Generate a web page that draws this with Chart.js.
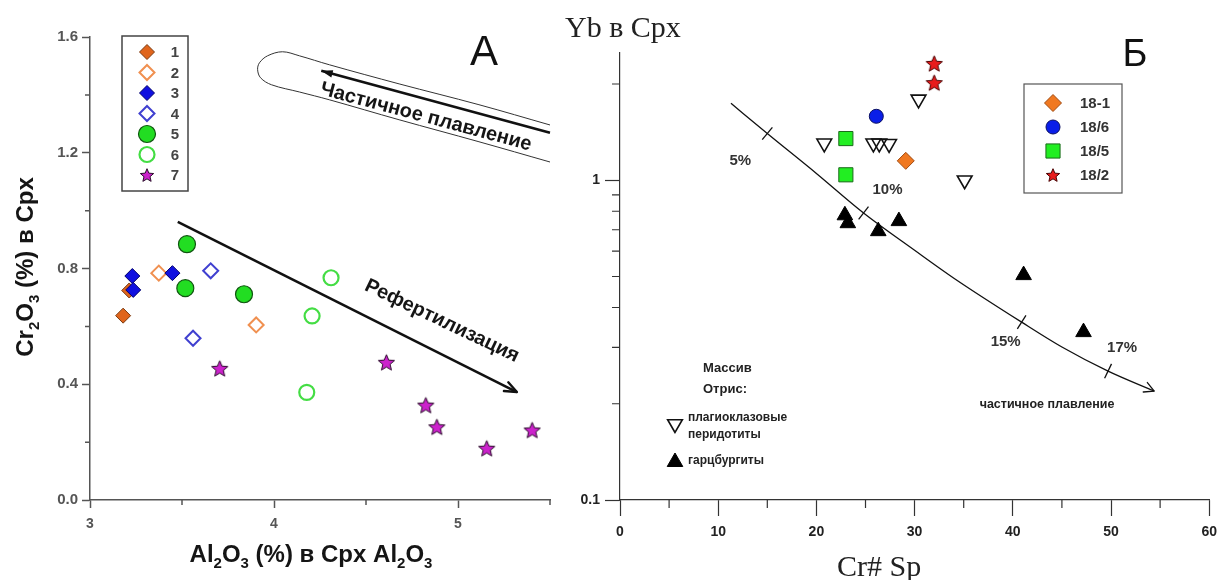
<!DOCTYPE html>
<html>
<head>
<meta charset="utf-8">
<title>Cr2O3 – Al2O3 и Yb – Cr# Sp</title>
<script src="https://cdn.jsdelivr.net/npm/chart.js@4.4.1/dist/chart.umd.min.js"></script>
<style>
  html, body { margin: 0; padding: 0; background: #fff; }
  #wrap { position: relative; width: 1225px; height: 580px; overflow: hidden; }
  #wrap canvas { position: absolute; left: 0; top: 0; }
</style>
</head>
<body>
<div id="wrap">
  <canvas id="chartA" width="1225" height="580"></canvas>
  <canvas id="chartB" width="1225" height="580"></canvas>
</div>
<script>
// ---------- Панель А: Al2O3 – Cr2O3 в клинопироксене ----------
const groupLabelsA = ['1', '2', '3', '4', '5', '6', '7'];
const groupA1 = [[3.18, 0.637], [3.213, 0.724]];
const groupA2 = [[3.374, 0.784], [3.903, 0.605]];
const groupA3 = [[3.23, 0.774], [3.235, 0.726], [3.448, 0.784]];
const groupA4 = [[3.656, 0.792], [3.56, 0.559]];
const groupA5 = [[3.527, 0.884], [3.518, 0.732], [3.837, 0.711]];
const groupA6 = [[4.31, 0.768], [4.207, 0.636], [4.178, 0.372]];
const groupA7 = [[3.705, 0.455], [4.611, 0.476], [4.825, 0.328], [4.885, 0.253], [5.156, 0.179], [5.403, 0.242]];

// тренды
const refertTrend = [[3.477, 0.961], [5.32, 0.373]];
const meltTrendA = [[5.5, 1.269], [4.257, 1.483]];
const meltFieldA = [[5.5, 1.296], [5.114, 1.366], [4.68, 1.438], [4.301, 1.504], [4.138, 1.535], [4.046, 1.549],
  [3.965, 1.535], [3.921, 1.511], [3.911, 1.487], [3.927, 1.459], [3.986, 1.435], [4.138, 1.41],
  [4.301, 1.383], [4.68, 1.314], [5.114, 1.238], [5.5, 1.168]];

const xTicksA = [3, 4, 5];
const xMinorA = [3.5, 4.5, 5.5];
const yTicksA = [0, 0.4, 0.8, 1.2, 1.6];
const yMinorA = [0.2, 0.6, 1.0, 1.4];

// ---------- Панель Б: Cr# Sp – Yb в Cpx ----------
const groupLabelsB = ['18-1', '18/6', '18/5', '18/2'];
const groupB1 = [[29.1, 1.15]];
const groupB2 = [[26.1, 1.585]];
const groupB3 = [[23.0, 1.35], [23.0, 1.04]];
const groupB4 = [[32.0, 2.32], [32.0, 2.02]];
const plagPeridotites = [[20.8, 1.305], [25.8, 1.305], [26.4, 1.305], [27.4, 1.3], [30.4, 1.79], [35.1, 1.0]];
const harzburgites = [[22.9, 0.777], [23.2, 0.734], [26.3, 0.693], [28.4, 0.745], [41.1, 0.505], [47.2, 0.335]];

// кривая частичного плавления и отметки степени плавления
const meltCurveB = [[11.3, 1.74], [15.0, 1.40], [20.0, 1.05], [24.8, 0.79], [30.0, 0.604], [34.0, 0.494],
  [40.9, 0.36], [45.0, 0.301], [49.7, 0.253], [54.4, 0.219]];
const meltDegreeIdx = [1, 3, 6, 8];
const meltDegreeLabels = ['5%', '10%', '15%', '17%'];

const xTicksB = [0, 10, 20, 30, 40, 50, 60];
const xMinorB = [5, 15, 25, 35, 45, 55];
const yTicksB = [0.1, 1];
const yMinorB = [0.2, 0.3, 0.4, 0.5, 0.6, 0.7, 0.8, 0.9, 2];

// ---------- общие утилиты ----------
const SANS = "'Liberation Sans', Arial, Helvetica, sans-serif";
const SERIF = "'Liberation Serif', 'Times New Roman', serif";
const toXY = arr => arr.map(p => ({ x: p[0], y: p[1] }));

function makeStar(r, fill, stroke) {
  const c = document.createElement('canvas');
  const s = Math.ceil(r * 2 + 4);
  c.width = s; c.height = s;
  const g = c.getContext('2d');
  g.translate(s / 2, s / 2 + r * 0.1);
  g.beginPath();
  for (let i = 0; i < 10; i++) {
    const rr = i % 2 ? r * 0.45 : r;
    const a = -Math.PI / 2 + i * Math.PI / 5;
    g.lineTo(rr * Math.cos(a), rr * Math.sin(a));
  }
  g.closePath();
  g.fillStyle = fill; g.fill();
  g.strokeStyle = stroke; g.lineWidth = 1; g.stroke();
  return c;
}

function drawMarker(ctx, ds, x, y, legendStyle) {
  ctx.save();
  ctx.fillStyle = ds.pointBackgroundColor;
  ctx.strokeStyle = ds.pointBorderColor;
  ctx.lineWidth = ds.pointBorderWidth;
  Chart.helpers.drawPoint(ctx, {
    pointStyle: legendStyle || ds.pointStyle,
    rotation: ds.pointRotation || 0,
    radius: ds.legendRadius || ds.pointRadius,
    borderWidth: ds.pointBorderWidth
  }, x, y);
  ctx.restore();
}

// текст с нижними индексами: parts = [[текст, индекс?], ...]
function drawRich(ctx, parts, x, y, size, family, color) {
  const small = Math.round(size * 0.64);
  let w = 0;
  for (const [t, s] of parts) {
    ctx.font = `bold ${s ? small : size}px ${family}`;
    w += ctx.measureText(t).width;
  }
  let cx = x - w / 2;
  ctx.fillStyle = color;
  ctx.textAlign = 'left';
  ctx.textBaseline = 'alphabetic';
  for (const [t, s] of parts) {
    ctx.font = `bold ${s ? small : size}px ${family}`;
    ctx.fillText(t, cx, y + (s ? size * 0.24 : 0));
    cx += ctx.measureText(t).width;
  }
}

function drawText(ctx, text, x, y, font, color, angleDeg, align) {
  ctx.save();
  ctx.translate(x, y);
  ctx.rotate((angleDeg || 0) * Math.PI / 180);
  ctx.font = font;
  ctx.fillStyle = color;
  ctx.textAlign = align || 'center';
  ctx.textBaseline = 'middle';
  ctx.fillText(text, 0, 0);
  ctx.restore();
}

function metaPoints(chart, role) {
  const i = chart.data.datasets.findIndex(d => d.role === role);
  return chart.getDatasetMeta(i).data;
}

// наконечник стрелки в точке b, направление a -> b
function arrowHead(ctx, a, b, len, halfDeg, filled, width, color) {
  const ang = Math.atan2(b.y - a.y, b.x - a.x);
  const h = halfDeg * Math.PI / 180;
  const p1 = { x: b.x - len * Math.cos(ang - h), y: b.y - len * Math.sin(ang - h) };
  const p2 = { x: b.x - len * Math.cos(ang + h), y: b.y - len * Math.sin(ang + h) };
  ctx.save();
  ctx.strokeStyle = color; ctx.fillStyle = color; ctx.lineWidth = width;
  ctx.lineCap = 'round'; ctx.lineJoin = 'round';
  ctx.beginPath();
  if (filled) {
    ctx.moveTo(b.x, b.y); ctx.lineTo(p1.x, p1.y); ctx.lineTo(p2.x, p2.y); ctx.closePath(); ctx.fill();
  } else {
    ctx.moveTo(p1.x, p1.y); ctx.lineTo(b.x, b.y); ctx.lineTo(p2.x, p2.y); ctx.stroke();
  }
  ctx.restore();
}

function minorTicks(ctx, chart, xs, ys, len, color, width) {
  const sx = chart.scales.x, sy = chart.scales.y, area = chart.chartArea;
  ctx.save();
  ctx.strokeStyle = color; ctx.lineWidth = width;
  ctx.beginPath();
  for (const v of xs) { const px = sx.getPixelForValue(v); ctx.moveTo(px, area.bottom); ctx.lineTo(px, area.bottom + len); }
  for (const v of ys) { const py = sy.getPixelForValue(v); ctx.moveTo(area.left - len, py); ctx.lineTo(area.left, py); }
  ctx.stroke();
  ctx.restore();
}

function markerSet(data, label, style, radius, fill, stroke, bw, extra) {
  return Object.assign({
    label, data: toXY(data), showLine: false, clip: false,
    pointStyle: style, pointRadius: radius, pointHoverRadius: radius,
    pointBackgroundColor: fill, pointBorderColor: stroke, pointBorderWidth: bw
  }, extra || {});
}

function lineSet(data, role, color, width, tension, extra) {
  return Object.assign({
    role, data: toXY(data), showLine: true, clip: false, order: 100,
    borderColor: color, borderWidth: width, pointRadius: 0, pointHoverRadius: 0,
    tension: tension || 0, fill: false
  }, extra || {});
}

// ---------- панель А ----------
const starMagenta = makeStar(8.5, '#cc22cc', '#2a0a2a');
const starMagentaSmall = makeStar(7, '#cc22cc', '#2a0a2a');

const datasetsA = [
  markerSet(groupA1, groupLabelsA[0], 'rectRot', 7.5, '#e0651c', '#7a3a10', 1, { order: 20 }),
  markerSet(groupA2, groupLabelsA[1], 'rectRot', 7.5, 'rgba(0,0,0,0)', '#f09050', 2, { order: 19 }),
  markerSet(groupA3, groupLabelsA[2], 'rectRot', 7.5, '#1010e0', '#00006a', 1, { order: 18 }),
  markerSet(groupA4, groupLabelsA[3], 'rectRot', 7.5, 'rgba(0,0,0,0)', '#4040d0', 2, { order: 17 }),
  markerSet(groupA5, groupLabelsA[4], 'circle', 8.5, '#22dd22', '#105510', 1.2, { order: 16 }),
  markerSet(groupA6, groupLabelsA[5], 'circle', 7.5, 'rgba(0,0,0,0)', '#44dd44', 2.2, { order: 15 }),
  markerSet(groupA7, groupLabelsA[6], starMagenta, 8, '#cc22cc', '#2a0a2a', 1, { order: 14, legendImage: starMagentaSmall }),
  lineSet(meltFieldA, 'meltField', '#333', 1, 0.35),
  lineSet(meltTrendA, 'meltTrend', '#111', 2.6, 0),
  lineSet(refertTrend, 'refert', '#111', 2.6, 0)
];

const decorA = {
  id: 'decorA',
  afterDatasetsDraw(chart) {
    const ctx = chart.ctx;
    const r = metaPoints(chart, 'refert');
    arrowHead(ctx, r[0], r[1], 13, 22, false, 2.4, '#111');
    const m = metaPoints(chart, 'meltTrend');
    arrowHead(ctx, m[0], m[1], 12, 18, true, 1, '#111');
  },
  afterDraw(chart) {
    const ctx = chart.ctx;
    minorTicks(ctx, chart, xMinorA, yMinorA, 5, '#555', 1.5);

    // легенда
    ctx.save();
    ctx.strokeStyle = '#444'; ctx.lineWidth = 1.5;
    ctx.strokeRect(122, 36, 66, 155);
    const sets = chart.data.datasets.filter(d => d.label);
    sets.forEach((ds, i) => {
      const y = 52 + i * 20.5;
      drawMarker(ctx, ds, 147, y, ds.legendImage);
      drawText(ctx, ds.label, 175, y + 1, `bold 15px ${SANS}`, '#444', 0, 'center');
    });
    ctx.restore();

    // подписи трендов
    drawText(ctx, 'Частичное плавление', 426, 117, `bold 20px ${SANS}`, '#151515', 15);
    drawText(ctx, 'Рефертилизация', 442, 321, `bold 20px ${SANS}`, '#151515', 25.5);
    drawText(ctx, 'А', 484, 53, `42px ${SANS}`, '#111');

    // названия осей
    drawRich(ctx, [['Al', 0], ['2', 1], ['O', 0], ['3', 1], [' (%) в Cpx Al', 0], ['2', 1], ['O', 0], ['3', 1]],
      311, 562, 24, SANS, '#151515');
    ctx.save();
    ctx.translate(33, 267);
    ctx.rotate(-Math.PI / 2);
    drawRich(ctx, [['Cr', 0], ['2', 1], ['O', 0], ['3', 1], [' (%) в Cpx', 0]], 0, 0, 24, SANS, '#151515');
    ctx.restore();
  }
};

new Chart(document.getElementById('chartA'), {
  type: 'scatter',
  data: { datasets: datasetsA },
  options: {
    responsive: false, animation: false, devicePixelRatio: 1,
    layout: { padding: { left: 0, top: 37, right: 675, bottom: 0 } },
    plugins: { legend: { display: false }, tooltip: { enabled: false } },
    scales: {
      x: {
        type: 'linear', min: 3, max: 5.5,
        afterBuildTicks: s => { s.ticks = xTicksA.map(v => ({ value: v })); },
        afterFit: s => { s.height = 80; },
        grid: { drawOnChartArea: false, drawTicks: true, tickLength: 8, color: '#555', tickWidth: 1.5 },
        border: { display: true, color: '#555', width: 1.5 },
        ticks: { color: '#555', font: { family: SANS, size: 14, weight: 'bold' }, padding: 8, maxRotation: 0, autoSkip: false,
          callback: v => String(v) }
      },
      y: {
        type: 'linear', min: 0, max: 1.6,
        afterBuildTicks: s => { s.ticks = yTicksA.map(v => ({ value: v })); },
        afterFit: s => { s.width = 90; },
        grid: { drawOnChartArea: false, drawTicks: true, tickLength: 8, color: '#555', tickWidth: 1.5 },
        border: { display: true, color: '#555', width: 1.5 },
        ticks: { color: '#555', font: { family: SANS, size: 15, weight: 'bold' }, padding: 4, autoSkip: false,
          callback: v => Number(v).toFixed(1) }
      }
    }
  },
  plugins: [decorA]
});

// ---------- панель Б ----------
const starRed = makeStar(8.5, '#e81c1c', '#4a0000');
const starRedSmall = makeStar(7, '#e81c1c', '#4a0000');

const datasetsB = [
  markerSet(groupB1, groupLabelsB[0], 'rectRot', 8.5, '#f07820', '#a04a10', 1, { order: 5 }),
  markerSet(groupB2, groupLabelsB[1], 'circle', 7, '#0a1ee8', '#0a1060', 1, { order: 6 }),
  markerSet(groupB3, groupLabelsB[2], 'rect', 10, '#22ee22', '#1a6a1a', 1, { order: 7 }),
  markerSet(groupB4, groupLabelsB[3], starRed, 8, '#e81c1c', '#4a0000', 1, { order: 8, legendImage: starRedSmall }),
  markerSet(plagPeridotites, null, 'triangle', 8.5, 'rgba(0,0,0,0)', '#111', 1.6, { order: 9, pointRotation: 180, role: 'plag' }),
  markerSet(harzburgites, null, 'triangle', 9, '#000', '#000', 1, { order: 10, role: 'harz' }),
  lineSet(meltCurveB, 'meltCurve', '#111', 1.3, 0, { cubicInterpolationMode: 'monotone' })
];

const decorB = {
  id: 'decorB',
  afterDatasetsDraw(chart) {
    const ctx = chart.ctx;
    const pts = metaPoints(chart, 'meltCurve');
    const n = pts.length;
    arrowHead(ctx, pts[n - 2], pts[n - 1], 11, 28, false, 1.3, '#111');

    // засечки степени плавления
    const labelShift = [[-27, 27], [24, -23], [-16, 20], [14, -23]];
    ctx.save();
    ctx.strokeStyle = '#111'; ctx.lineWidth = 1.3;
    meltDegreeIdx.forEach((k, i) => {
      const p = pts[k], a = pts[k - 1], b = pts[k + 1];
      const ang = Math.atan2(b.y - a.y, b.x - a.x) + Math.PI / 2;
      const L = 8;
      ctx.beginPath();
      ctx.moveTo(p.x - L * Math.cos(ang), p.y - L * Math.sin(ang));
      ctx.lineTo(p.x + L * Math.cos(ang), p.y + L * Math.sin(ang));
      ctx.stroke();
      drawText(ctx, meltDegreeLabels[i], p.x + labelShift[i][0], p.y + labelShift[i][1], `bold 15px ${SANS}`, '#333');
    });
    ctx.restore();
  },
  afterDraw(chart) {
    const ctx = chart.ctx;
    minorTicks(ctx, chart, xMinorB, yMinorB, 8, '#333', 1.2);

    // легенда образцов
    ctx.save();
    ctx.strokeStyle = '#555'; ctx.lineWidth = 1.2;
    ctx.strokeRect(1024, 84, 98, 109);
    const sets = chart.data.datasets.filter(d => d.label);
    sets.forEach((ds, i) => {
      const y = 103 + i * 24;
      drawMarker(ctx, ds, 1053, y, ds.legendImage);
      drawText(ctx, ds.label, 1080, y + 1, `bold 15px ${SANS}`, '#333', 0, 'left');
    });
    ctx.restore();

    // массив Отрис
    drawText(ctx, 'Массив', 703, 368, `bold 13px ${SANS}`, '#222', 0, 'left');
    drawText(ctx, 'Отрис:', 703, 389, `bold 13px ${SANS}`, '#222', 0, 'left');
    const plag = chart.data.datasets.find(d => d.role === 'plag');
    const harz = chart.data.datasets.find(d => d.role === 'harz');
    drawMarker(ctx, plag, 675, 424);
    drawMarker(ctx, harz, 675, 462);
    drawText(ctx, 'плагиоклазовые', 688, 418, `bold 12px ${SANS}`, '#222', 0, 'left');
    drawText(ctx, 'перидотиты', 688, 435, `bold 12px ${SANS}`, '#222', 0, 'left');
    drawText(ctx, 'гарцбургиты', 688, 461, `bold 12px ${SANS}`, '#222', 0, 'left');

    drawText(ctx, 'частичное плавление', 1047, 405, `bold 12.5px ${SANS}`, '#222');
    drawText(ctx, 'Б', 1135, 56, `38px ${SANS}`, '#111');

    // названия осей
    ctx.save();
    ctx.fillStyle = '#222';
    ctx.textBaseline = 'alphabetic';
    ctx.textAlign = 'left';
    ctx.font = `30px ${SERIF}`;
    ctx.fillText('Yb в Cpx', 565, 37);
    ctx.fillText('Cr# Sp', 837, 576);
    ctx.restore();
  }
};

new Chart(document.getElementById('chartB'), {
  type: 'scatter',
  data: { datasets: datasetsB },
  options: {
    responsive: false, animation: false, devicePixelRatio: 1,
    layout: { padding: { left: 580, top: 53, right: 11, bottom: 0 } },
    plugins: { legend: { display: false }, tooltip: { enabled: false } },
    scales: {
      x: {
        type: 'linear', min: 0, max: 60,
        afterBuildTicks: s => { s.ticks = xTicksB.map(v => ({ value: v })); },
        afterFit: s => { s.height = 80; },
        grid: { drawOnChartArea: false, drawTicks: true, tickLength: 16, color: '#333', tickWidth: 1.2 },
        border: { display: true, color: '#333', width: 1.2 },
        ticks: { color: '#222', font: { family: SANS, size: 14, weight: 'bold' }, padding: 8, maxRotation: 0, autoSkip: false,
          callback: v => String(v) }
      },
      y: {
        type: 'logarithmic', min: 0.1, max: 2.5,
        afterBuildTicks: s => { s.ticks = yTicksB.map(v => ({ value: v })); },
        afterFit: s => { s.width = 40; },
        grid: { drawOnChartArea: false, drawTicks: true, tickLength: 15, color: '#333', tickWidth: 1.2 },
        border: { display: true, color: '#333', width: 1.2 },
        ticks: { color: '#222', font: { family: SANS, size: 14, weight: 'bold' }, padding: 5, autoSkip: false,
          callback: v => String(v) }
      }
    }
  },
  plugins: [decorB]
});
</script>
</body>
</html>
